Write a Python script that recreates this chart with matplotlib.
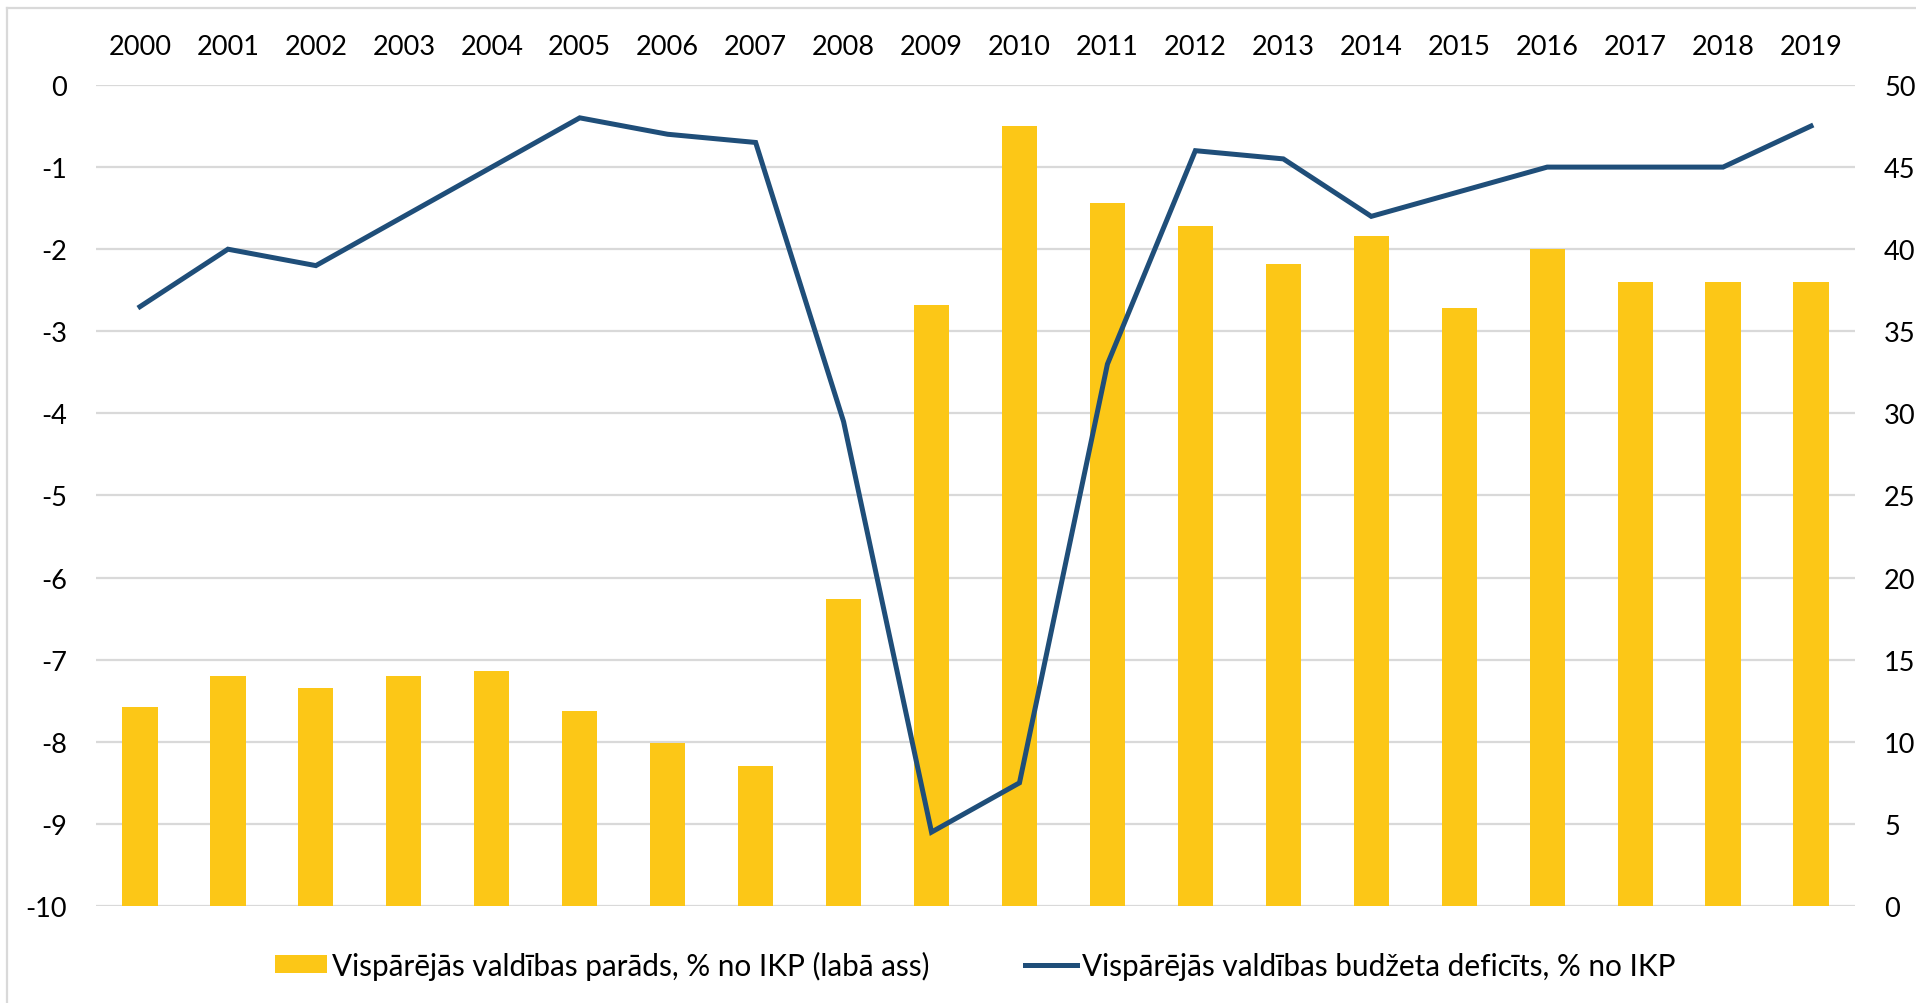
import matplotlib
matplotlib.use("Agg")
import matplotlib.pyplot as plt
from matplotlib.lines import Line2D
from matplotlib.patches import Patch

years = ["2000", "2001", "2002", "2003", "2004", "2005", "2006", "2007", "2008", "2009",
         "2010", "2011", "2012", "2013", "2014", "2015", "2016", "2017", "2018", "2019"]
debt = [12.1, 14.0, 13.3, 14.0, 14.3, 11.9, 9.9, 8.5, 18.7, 36.6,
        47.5, 42.8, 41.4, 39.1, 40.8, 36.4, 40.0, 38.0, 38.0, 38.0]
deficit = [-2.7, -2.0, -2.2, -1.6, -1.0, -0.4, -0.6, -0.7, -4.1, -9.1,
           -8.5, -3.4, -0.8, -0.9, -1.6, -1.3, -1.0, -1.0, -1.0, -0.5]
left_ticks = [0, -1, -2, -3, -4, -5, -6, -7, -8, -9, -10]
right_ticks = [0, 5, 10, 15, 20, 25, 30, 35, 40, 45, 50]
label_debt = "Vispārējās valdības parāds, % no IKP (labā ass)"
label_def = "Vispārējās valdības budžeta deficīts, % no IKP"

YELLOW = "#FCC717"
BLUE = "#1F4E79"
GRID = "#D9D9D9"

plt.rcParams['font.family'] = ['Lato', 'DejaVu Sans']
plt.rcParams['axes.unicode_minus'] = False
FS = 19.5
LFS = 21.4

W, H = 1916, 1004
fig = plt.figure(figsize=(W / 100, H / 100), dpi=100)
left, right, top, bottom = 96, 1855, 86, 907
ax = fig.add_axes([left / W, 1 - bottom / H, (right - left) / W, (bottom - top) / H])
ax2 = ax.twinx()

x = list(range(len(years)))

# bars on right axis (drawn behind)
ax2.set_zorder(ax.get_zorder() - 1)
ax.patch.set_visible(False)
ax2.bar(x, debt, width=0.40, color=YELLOW, zorder=2)
ax2.set_ylim(0, 50)
ax2.set_yticks(right_ticks)
ax2.grid(axis='y', color=GRID, linewidth=1.6, zorder=0)
ax2.set_axisbelow(True)

# line on left axis
ax.plot(x, deficit, color=BLUE, linewidth=3.6, solid_joinstyle='miter', zorder=5)
ax.set_ylim(-10, 0)
ax.set_yticks(left_ticks)
ax.set_xlim(-0.5, len(years) - 0.5)
ax.set_xticks(x)
ax.set_xticklabels(years)
ax.xaxis.tick_top()

for a in (ax, ax2):
    for s in a.spines.values():
        s.set_visible(False)
ax.tick_params(axis='x', length=0, labelsize=FS, pad=19, colors='black')
ax.tick_params(axis='y', length=0, labelsize=FS, pad=21, colors='black')
ax2.tick_params(axis='y', length=0, labelsize=FS, pad=21, colors='black')

handles = [Patch(facecolor=YELLOW, edgecolor='none', label=label_debt),
           Line2D([0], [0], color=BLUE, linewidth=3.6, label=label_def)]
fig.legend(handles=handles, loc='center', bbox_to_anchor=(975 / W, 1 - 966 / H),
           ncol=2, frameon=False, fontsize=LFS, handlelength=1.75, handleheight=0.57,
           handletextpad=0.17, columnspacing=3.2)

# light border lines (top and left)
fig.add_artist(Line2D([7 / W, 7 / W], [0, 1 - 9 / H], color=GRID, linewidth=1.6,
                      transform=fig.transFigure))
fig.add_artist(Line2D([7 / W, 1], [1 - 9 / H, 1 - 9 / H], color=GRID, linewidth=1.6,
                      transform=fig.transFigure))

fig.savefig("out.png", dpi=100)
